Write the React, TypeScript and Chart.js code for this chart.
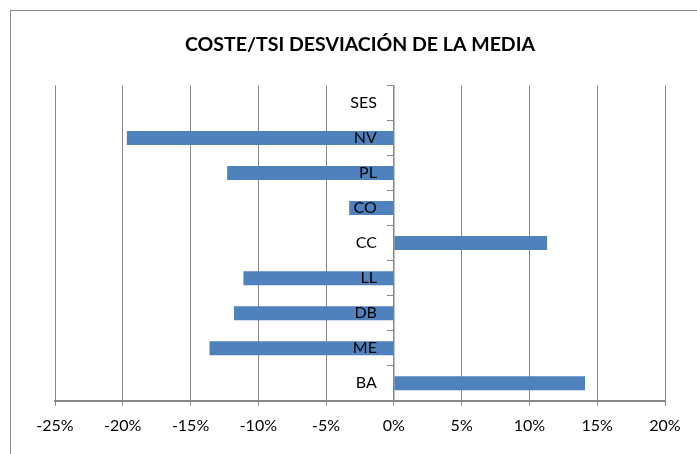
import React, { useEffect, useRef } from "react";
import { Chart, registerables } from "chart.js";

Chart.register(...registerables);

const chartTitle = "COSTE/TSI DESVIACIÓN DE LA MEDIA";
const categories = ["SES", "NV", "PL", "CO", "CC", "LL", "DB", "ME", "BA"];
const deviations = [0, -19.7, -12.3, -3.3, 11.3, -11.1, -11.8, -13.6, 14.1];
const xMin = -25;
const xMax = 20;
const xStep = 5;

const FONT = "Lato, 'Open Sans', sans-serif";
const GRID = "#878787";

const categoryLabelPlugin = {
  id: "categoryLabels",
  afterDatasetsDraw(chart: any) {
    const xs = chart.scales.x;
    const ys = chart.scales.y;
    const ctx = chart.ctx;
    const x0 = xs.getPixelForValue(0) - 17;
    ctx.save();
    ctx.fillStyle = "#000";
    ctx.font = `16px ${FONT}`;
    ctx.textAlign = "right";
    ctx.textBaseline = "middle";
    categories.forEach((c, i) => {
      ctx.fillText(c, x0, ys.getPixelForValue(i));
    });
    ctx.restore();
  },
};

export default function App() {
  const canvasRef = useRef<HTMLCanvasElement | null>(null);

  useEffect(() => {
    const canvas = canvasRef.current;
    if (!canvas) return;
    const chart = new Chart(canvas, {
      type: "bar",
      data: {
        labels: categories,
        datasets: [
          {
            data: deviations,
            backgroundColor: "#4f81bd",
            borderWidth: 0,
            categoryPercentage: 1,
            barPercentage: 0.4,
          },
        ],
      },
      options: {
        indexAxis: "y",
        animation: false,
        responsive: false,
        maintainAspectRatio: false,
        layout: { padding: { left: 55, right: 48, top: 0, bottom: 9 } },
        plugins: {
          legend: { display: false },
          tooltip: { enabled: false },
          title: {
            display: true,
            text: chartTitle,
            color: "#000",
            font: { family: FONT, size: 19.5, weight: "bold" },
            padding: { top: 33, bottom: 29 },
          },
        },
        scales: {
          x: {
            type: "linear",
            position: "bottom",
            min: xMin,
            max: xMax,
            ticks: {
              stepSize: xStep,
              autoSkip: false,
              maxRotation: 0,
              color: "#000",
              padding: 10,
              font: { family: FONT, size: 16 },
              callback: (v: any) => `${v}%`,
            },
            grid: { color: GRID, lineWidth: 1, tickLength: 5, drawTicks: true },
            border: { color: GRID, width: 2 },
          },
          y: {
            type: "category",
            position: { x: 0 } as any,
            offset: true,
            grid: { drawOnChartArea: false, offset: true, tickLength: 6, color: GRID, lineWidth: 1 },
            border: { color: GRID, width: 1.5 },
            ticks: { display: false },
          },
        },
      },
      plugins: [categoryLabelPlugin],
    });
    return () => chart.destroy();
  }, []);

  return (
    <div
      style={{
        position: "fixed",
        left: 0,
        top: 0,
        width: 697,
        height: 454,
        overflow: "hidden",
        background: "#fff",
      }}
    >
      <div
        style={{
          position: "absolute",
          left: 10,
          top: 10,
          width: 760,
          height: 520,
          border: "1px solid #8a8a8a",
        }}
      />
      <canvas
        ref={canvasRef}
        width={713}
        height={454}
        style={{ position: "absolute", left: 0, top: 0, width: 713, height: 454 }}
      />
    </div>
  );
}
